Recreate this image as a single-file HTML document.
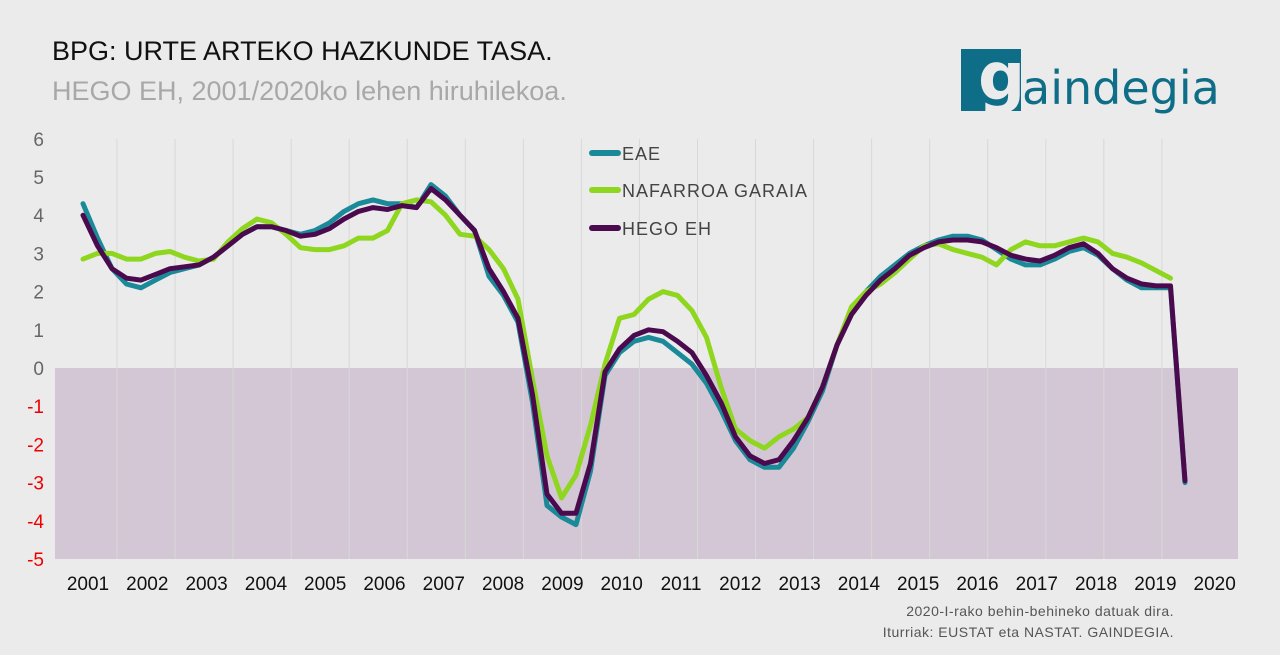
<!DOCTYPE html>
<html><head><meta charset="utf-8"><style>
body{margin:0;background:#ebebeb;font-family:"Liberation Sans",sans-serif;}
#c{position:relative;width:1280px;height:655px;overflow:hidden;background:#ebebeb}
.t1{position:absolute;left:52px;top:36px;font-size:27px;color:#111}
.t2{position:absolute;left:52px;top:76px;font-size:27px;color:#a8a8a8}
.logo{position:absolute;left:961px;top:49px;width:60px;height:62px;background:#0f6e87}
.lg{position:absolute;left:978px;top:38px;font-size:66px;color:#ebebeb;font-weight:bold;font-family:"DejaVu Sans",sans-serif}
.lt{position:absolute;left:1022px;top:61px;font-size:46px;color:#0f6e87;font-family:"DejaVu Sans",sans-serif;letter-spacing:0px}
.src{position:absolute;right:106px;font-size:14px;color:#555;text-align:right;letter-spacing:0.5px}
</style></head><body><div id="c">
<div class="t1">BPG: URTE ARTEKO HAZKUNDE TASA.</div>
<div class="t2">HEGO EH, 2001/2020ko lehen hiruhilekoa.</div>
<div class="logo"></div><div class="lg">g</div><div class="lt">aindegia</div>
<svg id="s" width="1280" height="655" style="position:absolute;left:0;top:0"></svg>
<div class="src" style="top:603px">2020-I-rako behin-behineko datuak dira.</div>
<div class="src" style="top:624px">Iturriak: EUSTAT eta NASTAT. GAINDEGIA.</div>
</div>
<script>
var s=document.getElementById('s'),h='';
function Y(v){return 368-v*38.2}
function X(i){return 83+14.5*i}
h+='<rect x="55" y="368" width="1183" height="191" fill="#d3c7d5"/>';
for(var k=0;k<19;k++){var gx=117+58.05*k;h+='<line x1="'+gx+'" y1="139" x2="'+gx+'" y2="559" stroke="#d8d8d8" stroke-width="1"/>';}
for(var v=6;v>=-5;v--){h+='<text x="44" y="'+(Y(v)+7)+'" font-size="19" text-anchor="end" fill="'+(v<0?'#e00':'#666')+'" font-family="Liberation Sans,sans-serif">'+(v)+'</text>';}
for(var k=0;k<20;k++){h+='<text x="'+(88+59.3*k)+'" y="590" font-size="19" text-anchor="middle" fill="#111" font-family="Liberation Sans,sans-serif">'+(2001+k)+'</text>';}
var eae=[4.3,3.4,2.6,2.2,2.1,2.3,2.5,2.6,2.7,2.9,3.2,3.5,3.7,3.7,3.6,3.5,3.6,3.8,4.1,4.3,4.4,4.3,4.3,4.2,4.8,4.5,4.0,3.6,2.4,1.9,1.2,-0.9,-3.6,-3.9,-4.1,-2.7,-0.2,0.4,0.7,0.8,0.7,0.4,0.1,-0.4,-1.1,-1.9,-2.4,-2.6,-2.6,-2.1,-1.4,-0.6,0.6,1.5,2.0,2.4,2.7,3.0,3.2,3.35,3.45,3.45,3.35,3.1,2.85,2.7,2.7,2.85,3.05,3.15,2.95,2.6,2.3,2.1,2.1,2.1,-3.0];
var naf=[2.85,3.0,3.0,2.85,2.85,3.0,3.05,2.9,2.8,2.85,3.3,3.65,3.9,3.8,3.5,3.15,3.1,3.1,3.2,3.4,3.4,3.6,4.3,4.4,4.35,4.0,3.5,3.45,3.1,2.6,1.8,-0.3,-2.3,-3.4,-2.8,-1.5,0.1,1.3,1.4,1.8,2.0,1.9,1.5,0.8,-0.5,-1.6,-1.9,-2.1,-1.8,-1.6,-1.3,-0.5,0.6,1.6,2.0,2.2,2.5,2.85,3.2,3.25,3.1,3.0,2.9,2.7,3.1,3.3,3.2,3.2,3.3,3.4,3.3,3.0,2.9,2.75,2.55,2.35];
var heh=[4.0,3.2,2.6,2.35,2.3,2.45,2.6,2.65,2.7,2.9,3.2,3.5,3.7,3.7,3.6,3.45,3.5,3.65,3.9,4.1,4.2,4.15,4.25,4.2,4.7,4.4,4.0,3.6,2.6,2.0,1.3,-0.7,-3.3,-3.8,-3.8,-2.5,-0.1,0.5,0.85,1.0,0.95,0.7,0.4,-0.2,-0.9,-1.8,-2.3,-2.5,-2.4,-1.9,-1.3,-0.5,0.6,1.4,1.9,2.3,2.6,2.95,3.15,3.3,3.35,3.35,3.3,3.15,2.95,2.85,2.8,2.95,3.15,3.25,3.0,2.6,2.35,2.2,2.15,2.15,-2.95];
function line(d,c){var p=d.map(function(v,i){return X(i).toFixed(1)+','+Y(v).toFixed(1)}).join(' ');h+='<polyline points="'+p+'" fill="none" stroke="'+c+'" stroke-width="5" stroke-linejoin="round" stroke-linecap="round"/>';}
line(eae,'#1a8a99');line(naf,'#8fd61e');line(heh,'#4b0a4d');
var lg=[['EAE','#1a8a99',153],['NAFARROA GARAIA','#8fd61e',190],['HEGO EH','#4b0a4d',228]];
lg.forEach(function(a){h+='<line x1="592" y1="'+a[2]+'" x2="618" y2="'+a[2]+'" stroke="'+a[1]+'" stroke-width="6" stroke-linecap="round"/><text x="622" y="'+(a[2]+7)+'" font-size="18" fill="#444" letter-spacing="1" font-family="Liberation Sans,sans-serif">'+a[0]+'</text>';});
s.innerHTML=h;
</script>
</body></html>
